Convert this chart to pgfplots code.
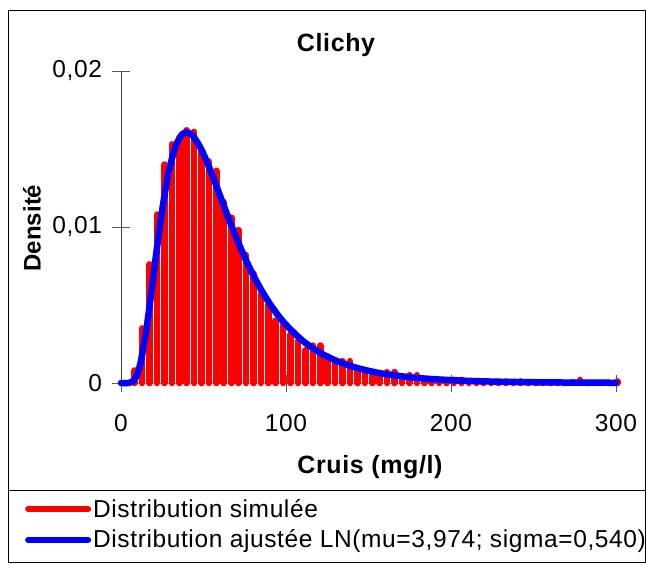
\documentclass[border=0pt]{standalone}
\usepackage{pgfplots}
\pgfplotsset{compat=1.18}
\usepackage{fontspec}
\setmainfont{Liberation Sans}
\newfontfamily\spfont[LetterSpace=2.5]{Liberation Sans}
\definecolor{pureRed}{RGB}{255,0,0}
\definecolor{pureBlue}{RGB}{0,0,255}
\begin{document}
\begin{tikzpicture}[x=1pt,y=1pt]
\useasboundingbox (0,0) rectangle (646,-565);
\fill[white] (0,0) rectangle (646,-565);
\draw[black, line width=1pt] (8,-10) rectangle (645.5,-490);
\draw[black, line width=1pt] (8,-490) rectangle (645.5,-562);
\begin{axis}[
  at={(121pt,-383pt)}, anchor=south west,
  scale only axis, width=495pt, height=312pt,
  xmin=0, xmax=300, ymin=0, ymax=0.02,
  axis x line*=bottom, axis y line*=left,
  clip=false,
  scaled y ticks=false,
  xtick={0,100,200,300}, ytick={0,0.01,0.02},
  xticklabels={0,100,200,300},
  yticklabels={0,{0,01},{0,02}},
  tick align=center, major tick length=17pt,
  tick style={black!65, line width=1pt},
  x axis line style={black!50, line width=1pt},
  y axis line style={black!75, line width=1pt},
  ticklabel style={font=\spfont\fontsize{24.5}{28}\selectfont},
  /pgf/number format/assume math mode=true,
  yticklabel style={xshift=-7pt},
  xticklabel style={yshift=-19pt},
  legend style={at={(-0.194,-0.366)}, anchor=north west, draw=none, fill=none,
    font=\spfont\fontsize{24.5}{28}\selectfont, row sep=7pt, inner sep=0pt,
    nodes={inner sep=2pt},
    /tikz/every even column/.append style={column sep=0pt}},
  legend cell align=left,
]
\addplot[ycomb, pureRed, line width=6.6pt, line cap=round,
  legend image code/.code={\draw[pureRed, line width=6pt, line cap=round] (0pt,0pt) -- (60pt,0pt);}]
coordinates {
(8.3,0.0008) (12.8,0.0035) (17.3,0.0076) (21.8,0.0108) (26.3,0.0140) (30.8,0.0153)
(35.3,0.0157) (39.8,0.0162) (44.3,0.0161) (48.8,0.0149) (53.3,0.0142) (57.8,0.0136)
(62.3,0.0116) (66.8,0.0106) (71.3,0.0098) (75.8,0.0082) (80.3,0.0070) (84.8,0.0057)
(89.3,0.0050) (93.8,0.0040) (98.3,0.0037) (102.8,0.0031) (107.3,0.0027) (111.8,0.0021)
(116.3,0.0024) (120.8,0.0024) (125.3,0.0017) (129.8,0.0013) (134.3,0.0014) (138.8,0.0014)
(143.3,0.0009) (147.8,0.0008) (152.3,0.0007) (156.8,0.0006) (161.3,0.0007) (165.8,0.0007)
(170.3,0.0003) (174.8,0.0005) (179.3,0.0005) (183.8,0.0002) (188.3,0.0002) (192.8,0.00015)
(197.3,0.00015) (201.8,0.0002) (206.3,0.0002) (210.8,0.0001) (215.3,0.0001) (219.8,0.00005)
(224.3,0.00005) (228.8,0.00005) (233.3,0.0001) (237.8,0.00005) (242.3,0.0001) (246.8,0.00005)
(251.3,0) (255.8,0.00005) (260.3,0) (264.8,0) (269.3,0) (273.8,0.00005)
(278.3,0.0002) (282.8,0) (287.3,0) (291.8,0) (296.3,0) (300.8,0.0001)
};
\addlegendentry{Distribution simulée}
\addplot[pureBlue, line width=6.5pt, line cap=round, line join=round, smooth,
  legend image code/.code={\draw[pureBlue, line width=6pt, line cap=round] (0pt,0pt) -- (60pt,0pt);}]
coordinates {
(0,0) (5,0.00001) (8,0.000196) (10,0.000614) (12,0.001374) (15,0.003155) (18,0.005481)
(20,0.007157) (22,0.008821) (25,0.011116) (28,0.013020) (30,0.014030) (33,0.015143)
(36,0.015800) (38,0.016012) (40,0.016067) (42,0.015984) (44,0.015785) (48,0.015115)
(52,0.014195) (56,0.013133) (60,0.012011) (65,0.010610) (70,0.009275) (75,0.008046)
(80,0.006942) (85,0.005964) (90,0.005110) (95,0.004369) (100,0.003731) (110,0.002717)
(120,0.001979) (130,0.001446) (140,0.001060) (150,0.000780) (160,0.000577) (175,0.000371)
(190,0.000242) (210,0.000139) (230,0.000081) (260,0.000038) (300,0.0000146)
};
\addlegendentry{Distribution ajustée LN(mu=3,974; sigma=0,540)}
\end{axis}
\node[font=\spfont\bfseries\fontsize{25}{28}\selectfont] at (336,-45) {Clichy};
\node[font=\spfont\bfseries\fontsize{25}{28}\selectfont] at (370,-467) {Cruis (mg/l)};
\node[font=\bfseries\fontsize{24}{28}\selectfont, rotate=90] at (32,-228) {Densité};
\end{tikzpicture}
\end{document}
